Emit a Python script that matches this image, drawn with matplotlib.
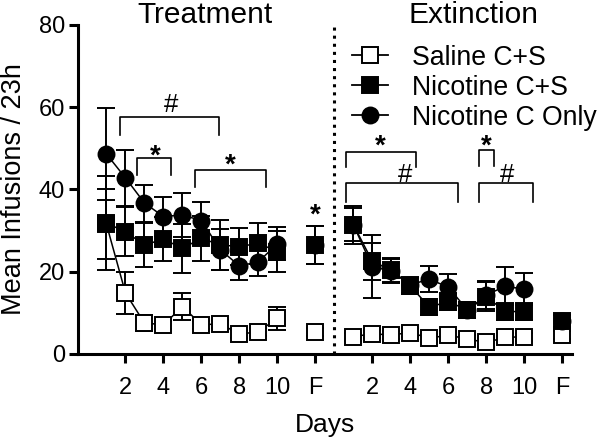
import matplotlib.pyplot as plt
from matplotlib.lines import Line2D

plt.rcParams['font.family'] = ['Liberation Sans', 'DejaVu Sans']

# day labels for each phase
tx_days = ['1', '2', '3', '4', '5', '6', '7', '8', '9', '10', 'F']
ex_days = ['1', '2', '3', '4', '5', '6', '7', '8', '9', '10', 'F']

# treatment phase (mean, SEM)
sal_tx = [31.5, 14.8, 7.5, 7.1, 11.5, 7.1, 7.3, 4.8, 5.4, 8.7, 5.4]
sal_tx_err = [8.5, 5.2, 2.0, 1.0, 3.3, 1.0, 1.0, 1.0, 1.0, 2.8, 1.0]
nic_tx = [31.8, 29.7, 26.5, 27.9, 25.7, 28.1, 26.5, 26.1, 26.9, 24.9, 26.5]
nic_tx_err = [11.5, 6.0, 5.3, 5.3, 6.0, 5.4, 6.0, 4.5, 5.0, 5.0, 4.6]
cue_tx = [48.6, 42.8, 36.7, 33.4, 33.8, 32.4, 25.3, 21.4, 22.4, 26.8, 26.5]
cue_tx_err = [11.2, 6.8, 4.5, 4.8, 5.3, 4.6, 5.0, 3.5, 3.5, 4.0, 4.6]

# extinction phase (mean, SEM)
sal_ex = [4.2, 4.9, 4.6, 5.2, 3.8, 4.6, 3.6, 2.8, 4.0, 4.2, 4.6]
sal_ex_err = [1.0, 1.0, 1.0, 1.0, 1.0, 1.0, 1.0, 1.0, 1.0, 1.0, 1.0]
nic_ex = [31.4, 22.5, 20.4, 16.5, 11.4, 12.7, 10.7, 13.9, 10.3, 10.3, 7.9]
nic_ex_err = [4.0, 4.5, 3.0, 2.0, 2.0, 2.0, 2.0, 3.5, 2.0, 2.0, 1.5]
cue_ex = [31.4, 21.2, 20.2, 16.8, 18.2, 16.2, 10.7, 14.3, 16.5, 15.7, 7.9]
cue_ex_err = [4.6, 7.7, 3.0, 2.0, 3.2, 3.3, 2.0, 3.5, 4.7, 3.9, 1.5]

# significance brackets: x1, x2, top, leg bottom, symbol, text x, text baseline
brackets = [
    (1.7, 6.9, 57.5, 53.3, '#', 4.4, 58.8),
    (2.6, 4.4, 47.6, 43.5, '*', 3.55, 46.2),
    (5.65, 9.4, 44.7, 40.7, '*', 7.5, 44.0),
    (13.6, 17.3, 49.2, 45.5, '*', 15.4, 48.6),
    (13.6, 19.5, 41.5, 37.0, '#', 16.7, 41.9),
    (20.6, 21.4, 49.6, 45.8, '*', 21.0, 48.6),
    (20.6, 23.45, 41.5, 37.0, '#', 22.1, 41.9),
]

tx_x = list(range(1, 11)) + [12]
ex_x = list(range(14, 24)) + [25]

fig = plt.figure(figsize=(6, 4.38), dpi=100)
ax = fig.add_axes([0.13, 0.192, 0.823, 0.751])

series = [
    (sal_tx, sal_tx_err, sal_ex, sal_ex_err, 's', 11.5, 'white', 'Saline C+S', 3),
    (nic_tx, nic_tx_err, nic_ex, nic_ex_err, 's', 11.5, 'black', 'Nicotine C+S', 4),
    (cue_tx, cue_tx_err, cue_ex, cue_ex_err, 'o', 11.5, 'black', 'Nicotine C Only', 5),
]
handles = []
for ytx, etx, yex, eex, mk, ms, fc, lab, z in series:
    for xs, ys, es in [(tx_x, ytx, etx), (ex_x, yex, eex)]:
        # connected days 1-10
        ax.plot(xs[:10], ys[:10], color='black', lw=1.1, zorder=z)
        ax.errorbar(xs, ys, yerr=es, fmt='none', ecolor='black',
                    elinewidth=1.4, capsize=6.8, capthick=1.4, zorder=z)
        ax.plot(xs, ys, ls='none', marker=mk, ms=ms, mfc=fc,
                mec='black', mew=1.4, zorder=z + 0.5)
    handles.append(Line2D([], [], color='black', lw=1.3, marker=mk, ms=ms,
                          mfc=fc, mec='black', mew=1.4, label=lab))

for x1, x2, top, bot, sym, tx, ty in brackets:
    ax.plot([x1, x1, x2, x2], [bot, top, top, bot], color='black', lw=1.2)
    if sym == '*':
        ax.text(tx, ty, sym, ha='center', va='baseline', fontsize=20,
                fontweight='bold')
    else:
        ax.text(tx, ty, sym, ha='center', va='baseline', fontsize=18.5)
ax.text(12, 32.0, '*', ha='center', va='baseline', fontsize=20,
        fontweight='bold')

ax.plot([13, 13], [0, 80], color='black', ls=':', lw=2.2)

ax.set_xlim(-0.5, 25.5)
ax.set_ylim(0, 80)
ax.set_yticks([0, 20, 40, 60, 80])
ax.set_xticks([2, 4, 6, 8, 10, 12, 15, 17, 19, 21, 23, 25])
ax.set_xticklabels(tx_days[1:10:2] + ['F'] + ex_days[1:10:2] + ['F'])
ax.tick_params(axis='both', width=2.2, length=6.5, labelsize=17, direction='out')
ax.tick_params(axis='x', pad=10)
ax.tick_params(axis='y', pad=3)
for s in ['top', 'right']:
    ax.spines[s].set_visible(False)
for s in ['left', 'bottom']:
    ax.spines[s].set_linewidth(2.2)

ax.set_xlabel('Days', fontsize=19, labelpad=10)
ax.set_ylabel('Mean Infusions / 23h', fontsize=19.5, labelpad=8)
ax.text(6.18, 80.4, 'Treatment', ha='center', va='baseline', fontsize=21.5)
ax.text(20.3, 80.4, 'Extinction', ha='center', va='baseline', fontsize=21.5)

ax.legend(handles=handles, loc='upper left', bbox_to_anchor=(0.533, 0.973),
          frameon=False, fontsize=19.2, handlelength=1.35, handletextpad=0.9,
          labelspacing=0.15, borderaxespad=0)

fig.savefig('out.png', dpi=100)
